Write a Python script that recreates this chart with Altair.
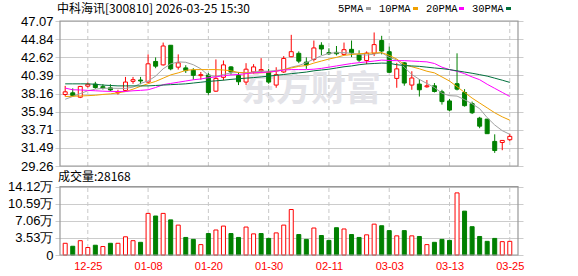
import json
import altair as alt
import pandas as pd

# ---------------- data ----------------
dates = ["12-22", "12-23", "12-24", "12-25", "12-26", "12-29", "12-30", "12-31",
         "01-05", "01-06", "01-07", "01-08", "01-09", "01-12", "01-13", "01-14", "01-15", "01-16",
         "01-19", "01-20", "01-21", "01-22", "01-23", "01-26", "01-27", "01-28", "01-29", "01-30",
         "02-02", "02-03", "02-04", "02-05", "02-06", "02-09", "02-10", "02-11", "02-12", "02-13",
         "02-24", "02-25", "02-26", "02-27", "03-02", "03-03", "03-04", "03-05", "03-06",
         "03-09", "03-10", "03-11", "03-12", "03-13", "03-16", "03-17", "03-18", "03-19", "03-20",
         "03-23", "03-24", "03-25"]

open_ = [38.04, 38.25, 37.71, 39.07, 39.32, 39.00, 38.86, 38.25, 38.54, 39.66,
         39.82, 39.57, 42.10, 41.68, 44.09, 41.40, 41.31, 41.02, 40.36, 40.44,
         38.45, 40.15, 41.43, 40.36, 39.57, 40.81, 40.94, 40.81, 39.20, 40.81,
         42.68, 43.10, 42.02, 42.35, 44.09, 43.18, 43.22, 42.97, 43.59, 42.93,
         42.22, 43.10, 44.67, 43.30, 40.02, 41.93, 39.20, 39.32, 38.99, 39.11,
         38.37, 37.25, 39.37, 38.29, 36.92, 35.14, 35.02, 32.28, 32.15, 32.49]
high = [39.10, 38.80, 39.10, 39.53, 39.60, 39.32, 39.30, 38.62, 40.20, 40.20,
        40.20, 42.97, 42.60, 44.42, 44.09, 42.97, 41.64, 41.27, 40.81, 40.69,
        42.35, 42.22, 41.52, 40.81, 41.89, 41.77, 42.51, 41.19, 41.39, 42.76,
        45.37, 43.34, 42.60, 44.67, 44.46, 43.72, 44.00, 44.42, 44.67, 43.47,
        43.34, 45.66, 45.25, 43.92, 41.93, 42.02, 40.90, 39.94, 39.82, 39.45,
        38.62, 37.50, 43.10, 38.70, 37.17, 35.30, 35.02, 33.15, 32.40, 33.23]
low = [37.80, 37.80, 37.60, 38.90, 38.74, 38.66, 38.45, 38.04, 38.45, 39.36,
       39.30, 39.45, 41.27, 41.60, 41.02, 41.10, 40.69, 39.86, 39.86, 38.00,
       38.37, 39.78, 40.48, 39.20, 39.20, 40.60, 40.69, 39.36, 38.87, 40.69,
       42.64, 41.89, 41.19, 42.10, 42.89, 42.89, 42.85, 42.85, 42.64, 42.06,
       41.77, 42.76, 42.97, 40.69, 38.87, 39.12, 38.62, 37.79, 38.87, 38.29,
       36.80, 35.97, 38.54, 36.55, 35.64, 33.90, 33.23, 30.87, 31.20, 32.32]
close = [38.37, 37.92, 39.03, 39.30, 38.90, 38.86, 38.60, 38.37, 39.57, 39.86,
         39.70, 41.81, 41.52, 44.00, 41.19, 41.93, 40.98, 40.40, 40.48, 38.29,
         40.02, 41.68, 40.81, 39.61, 41.15, 41.43, 41.10, 39.57, 40.48, 42.47,
         43.30, 42.14, 41.68, 43.76, 43.63, 43.05, 43.05, 43.55, 43.18, 42.27,
         43.13, 44.17, 43.38, 40.77, 41.19, 39.45, 40.07, 38.62, 39.11, 38.41,
         37.17, 36.13, 38.70, 36.67, 35.80, 34.15, 33.23, 31.16, 32.40, 32.90]

# volume in 万 (10k lots); 1 = red (up) bar, 0 = green bar
volume = [2.42, 1.81, 2.96, 1.55, 2.02, 1.75, 2.42, 2.42, 3.76, 2.96,
          2.62, 8.60, 8.06, 8.60, 7.26, 6.18, 3.63, 3.23, 2.15, 4.44,
          5.17, 5.98, 4.44, 3.63, 5.78, 4.37, 4.44, 3.43, 4.57, 6.18,
          9.40, 4.23, 3.23, 5.58, 4.03, 3.02, 5.64, 5.38, 4.23, 3.63,
          4.17, 6.38, 6.05, 5.04, 3.96, 5.04, 3.96, 3.83, 2.15, 2.62,
          3.23, 3.02, 12.84, 9.07, 5.85, 3.83, 2.82, 3.43, 2.76, 2.82]
vol_up = [1, 0, 1, 1, 0, 1, 0, 1, 1, 1,
          0, 1, 0, 1, 0, 1, 0, 0, 1, 0,
          1, 1, 0, 0, 1, 1, 0, 0, 1, 1,
          1, 0, 0, 1, 0, 0, 0, 1, 0, 0,
          1, 1, 0, 0, 1, 0, 1, 0, 1, 0,
          0, 0, 1, 0, 0, 0, 0, 0, 1, 1]

ma5 = [37.46, 37.80, 38.15, 38.50, 38.70, 38.80, 38.82, 38.80, 38.79, 38.95,
       39.40, 39.70, 40.30, 41.20, 41.80, 42.05, 42.00, 41.70, 41.20, 40.40,
       40.25, 40.50, 40.70, 40.75, 40.70, 40.80, 40.90, 40.90, 41.00, 41.10,
       41.40, 41.60, 41.95, 42.40, 42.80, 43.10, 43.18, 43.18, 43.10, 42.95,
       42.89, 43.00, 43.18, 42.60, 42.30, 41.40, 40.50, 39.90, 39.40, 38.90,
       38.20, 37.90, 37.85, 37.40, 36.90, 36.30, 35.20, 34.30, 33.60, 33.15]
ma10 = [37.79, 37.83, 37.86, 37.90, 37.95, 38.05, 38.12, 38.25, 38.40, 38.70,
        39.05, 39.37, 39.65, 40.05, 40.45, 40.70, 41.00, 41.10, 41.10, 41.10,
        41.10, 41.05, 40.95, 40.75, 40.69, 40.69, 40.70, 40.77, 40.90, 41.10,
        41.30, 41.50, 41.60, 41.90, 42.15, 42.40, 42.60, 42.85, 42.95, 43.05,
        43.10, 43.15, 43.18, 42.85, 42.40, 41.70, 41.45, 41.20, 40.90, 40.70,
        40.20, 39.70, 39.00, 38.30, 37.60, 37.00, 36.40, 35.80, 35.30, 34.89]
ma20 = [38.83, 38.62, 38.60, 38.55, 38.50, 38.45, 38.42, 38.41, 38.42, 38.50,
        38.55, 38.62, 38.90, 39.25, 39.40, 39.55, 39.70, 39.85, 39.95, 40.10,
        40.20, 40.35, 40.45, 40.50, 40.60, 40.70, 40.75, 40.80, 40.90, 41.05,
        41.10, 41.10, 41.10, 41.15, 41.25, 41.40, 41.55, 41.70, 41.85, 41.95,
        42.05, 42.15, 42.27, 42.22, 42.20, 42.20, 42.15, 42.10, 42.05, 41.85,
        41.40, 41.10, 40.90, 40.60, 40.20, 39.86, 39.30, 38.80, 38.30, 37.80]
ma30 = [39.35, 39.35, 39.35, 39.35, 39.30, 39.20, 39.15, 39.10, 39.10, 39.10,
        39.10, 39.10, 39.15, 39.20, 39.25, 39.30, 39.35, 39.45, 39.55, 39.65,
        39.72, 39.80, 39.90, 39.98, 40.05, 40.12, 40.20, 40.30, 40.40, 40.50,
        40.60, 40.70, 40.80, 40.95, 41.05, 41.15, 41.30, 41.45, 41.55, 41.70,
        41.80, 41.85, 41.90, 41.88, 41.70, 41.60, 41.55, 41.50, 41.40, 41.30,
        41.22, 41.10, 40.95, 40.80, 40.65, 40.48, 40.30, 40.05, 39.80, 39.53]

price_ticks = [29.26, 31.49, 33.71, 35.94, 38.16, 40.39, 42.62, 44.84, 47.07]
vol_ticks = [0, 3.53, 7.06, 10.59, 14.12]
tick_dates = ["12-25", "01-08", "01-20", "01-30", "02-11", "03-03", "03-13", "03-25"]
title_text = "中科海讯[300810] 2026-03-25 15:30"
vol_label = "成交量:28168"
ma_names = ["5PMA", "10PMA", "20PMA", "30PMA"]
ma_colors = ["#a0a0a0", "#f0a000", "#ff00ff", "#00703c"]

# ---------------- tables ----------------
n = len(dates)
df = pd.DataFrame({
    "idx": list(range(n)), "date": dates,
    "open": open_, "high": high, "low": low, "close": close,
    "vol": volume,
    "ma5": ma5, "ma10": ma10, "ma20": ma20, "ma30": ma30,
})
df["dir"] = ["up" if c >= o else "down" for o, c in zip(open_, close)]
df["vdir"] = ["up" if u else "down" for u in vol_up]

tick_idx = [dates.index(d) for d in tick_dates]
X_MIN, X_MAX = -0.69, 60.09
df_ticks = pd.DataFrame({"idx": tick_idx,
                         "p_lo": price_ticks[0], "p_hi": price_ticks[-1],
                         "v_lo": vol_ticks[0], "v_hi": vol_ticks[-1]})
df_frame = pd.DataFrame({"x0": [X_MIN], "x1": [X_MAX],
                         "p_lo": [price_ticks[0]], "p_hi": [price_ticks[-1]],
                         "v_lo": [vol_ticks[0]], "v_hi": [vol_ticks[-1]]})

# ---------------- layout ----------------
W, H = 468, 234
PRICE_RANGE = [145, 0]
VOL_RANGE = [234, 165.7]

xs = alt.Scale(domain=[X_MIN, X_MAX], nice=False, zero=False)
ps = alt.Scale(domain=[price_ticks[0], price_ticks[-1]], range=PRICE_RANGE, nice=False, zero=False)
vs = alt.Scale(domain=[vol_ticks[0], vol_ticks[-1]], range=VOL_RANGE, nice=False, zero=False)
fill_scale = alt.Scale(domain=["up", "down"], range=["#ffffff", "#008000"])
stroke_scale = alt.Scale(domain=["up", "down"], range=["#ff0000", "#008000"])

x_axis = alt.Axis(values=tick_idx, labelExpr=f"{json.dumps(dates)}[datum.value]",
                  domain=False, ticks=False, grid=False, labelPadding=5,
                  labelFont="Liberation Sans", labelFontSize=11, labelColor="#ff0000",
                  labelFlush=False, labelOverlap=False, title=None)
XN = alt.X("idx:Q", scale=xs, axis=x_axis)

price_axis = alt.Axis(values=price_ticks, orient="left", domain=False, ticks=False,
                      labelPadding=2, labelFont="Liberation Sans", labelFontSize=13,
                      labelColor="#000000", grid=True, gridColor="#cccccc", gridWidth=1,
                      title=None, format=".2f", labelOverlap=False, labelBound=False)
vol_axis = alt.Axis(values=vol_ticks, orient="left", domain=False, ticks=False,
                    labelPadding=2, labelFont="Liberation Sans", labelFontSize=13,
                    labelColor="#000000", grid=True, gridColor="#cccccc", gridWidth=1,
                    title=None, labelOverlap=False,
                    labelExpr="datum.value == 0 ? '0' : format(datum.value, '.2f') + '万'")

base = alt.Chart(df)

watermark = alt.Chart(pd.DataFrame({"t": ["东方财富"]})).mark_text(
    font="Noto Sans CJK SC", fontSize=35, fontWeight="bold", color="#e3e3e8",
    align="center", baseline="middle").encode(
    text="t:N", x=alt.value(256), y=alt.value(69))

vgrid_p = alt.Chart(df_ticks).mark_rule(color="#c8c8c8", strokeDash=[4, 3], strokeWidth=1).encode(
    x=XN, y=alt.Y("p_lo:Q", scale=ps, axis=price_axis), y2="p_hi:Q")
vgrid_v = alt.Chart(df_ticks).mark_rule(color="#c8c8c8", strokeDash=[4, 3], strokeWidth=1).encode(
    x=XN, y=alt.Y("v_lo:Q", scale=vs, axis=vol_axis), y2="v_hi:Q")

wicks = base.mark_rule(strokeWidth=1).encode(
    x=XN, y=alt.Y("low:Q", scale=ps, axis=None), y2="high:Q",
    stroke=alt.Stroke("dir:N", scale=stroke_scale, legend=None))
bodies = base.mark_bar(size=4, strokeWidth=1).encode(
    x=XN, y=alt.Y("open:Q", scale=ps, axis=None), y2="close:Q",
    fill=alt.Fill("dir:N", scale=fill_scale, legend=None),
    stroke=alt.Stroke("dir:N", scale=stroke_scale, legend=None))

ma_layers = []
for col, color in zip(["ma5", "ma10", "ma20", "ma30"], ma_colors):
    ma_layers.append(base.mark_line(color=color, strokeWidth=1).encode(
        x=XN, y=alt.Y(f"{col}:Q", scale=ps, axis=None)))

vbars = base.mark_bar(size=4, strokeWidth=1).encode(
    x=XN,
    y=alt.Y("vol:Q", scale=vs, axis=None), y2=alt.Y2(datum=0),
    fill=alt.Fill("vdir:N", scale=fill_scale, legend=None),
    stroke=alt.Stroke("vdir:N", scale=stroke_scale, legend=None))

frame_p = alt.Chart(df_frame).mark_rect(filled=False, stroke="#999999", strokeWidth=1.2).encode(
    x=alt.X("x0:Q", scale=xs, axis=x_axis), x2="x1:Q",
    y=alt.Y("p_lo:Q", scale=ps, axis=None), y2="p_hi:Q")
frame_v = alt.Chart(df_frame).mark_rect(filled=False, stroke="#999999", strokeWidth=1.2).encode(
    x=alt.X("x0:Q", scale=xs, axis=x_axis), x2="x1:Q",
    y=alt.Y("v_lo:Q", scale=vs, axis=None), y2="v_hi:Q")

title = alt.Chart(pd.DataFrame({"t": [title_text]})).mark_text(
    font="Noto Sans CJK SC", fontSize=12, color="#000000", align="left", baseline="middle").encode(
    text="t:N", x=alt.value(2), y=alt.value(-12.5))
vlab = alt.Chart(pd.DataFrame({"t": [vol_label]})).mark_text(
    font="Noto Sans CJK SC", fontSize=12, color="#000000", align="left", baseline="middle").encode(
    text="t:N", x=alt.value(3), y=alt.value(156))

legend_text_x = [283, 324, 371, 417]
legend_swatch_x = [311, 358, 404, 451]
legend_layers = []
for name, color, tx, sx in zip(ma_names, ma_colors, legend_text_x, legend_swatch_x):
    legend_layers.append(alt.Chart(pd.DataFrame({"t": [name]})).mark_text(
        font="Liberation Mono", fontSize=10.5, color="#000000", align="left", baseline="middle").encode(
        text="t:N", x=alt.value(tx), y=alt.value(-12.5)))
    legend_layers.append(alt.Chart(pd.DataFrame({"t": [name]})).mark_rect(color=color).encode(
        x=alt.value(sx), x2=alt.value(sx + 5), y=alt.value(-14), y2=alt.value(-11)))

chart = alt.layer(
    watermark, vgrid_p, vgrid_v, wicks, bodies, *ma_layers, vbars, frame_p, frame_v,
    title, vlab, *legend_layers
).resolve_scale(y="independent").properties(
    width=W, height=H,
    padding={"left": 55, "top": 21, "right": 55, "bottom": 21},
    autosize=alt.AutoSizeParams(type="none"),
    background="#ffffff",
).configure_view(stroke=None)

chart.save("out.html", embed_options={"renderer": "svg", "actions": False})
